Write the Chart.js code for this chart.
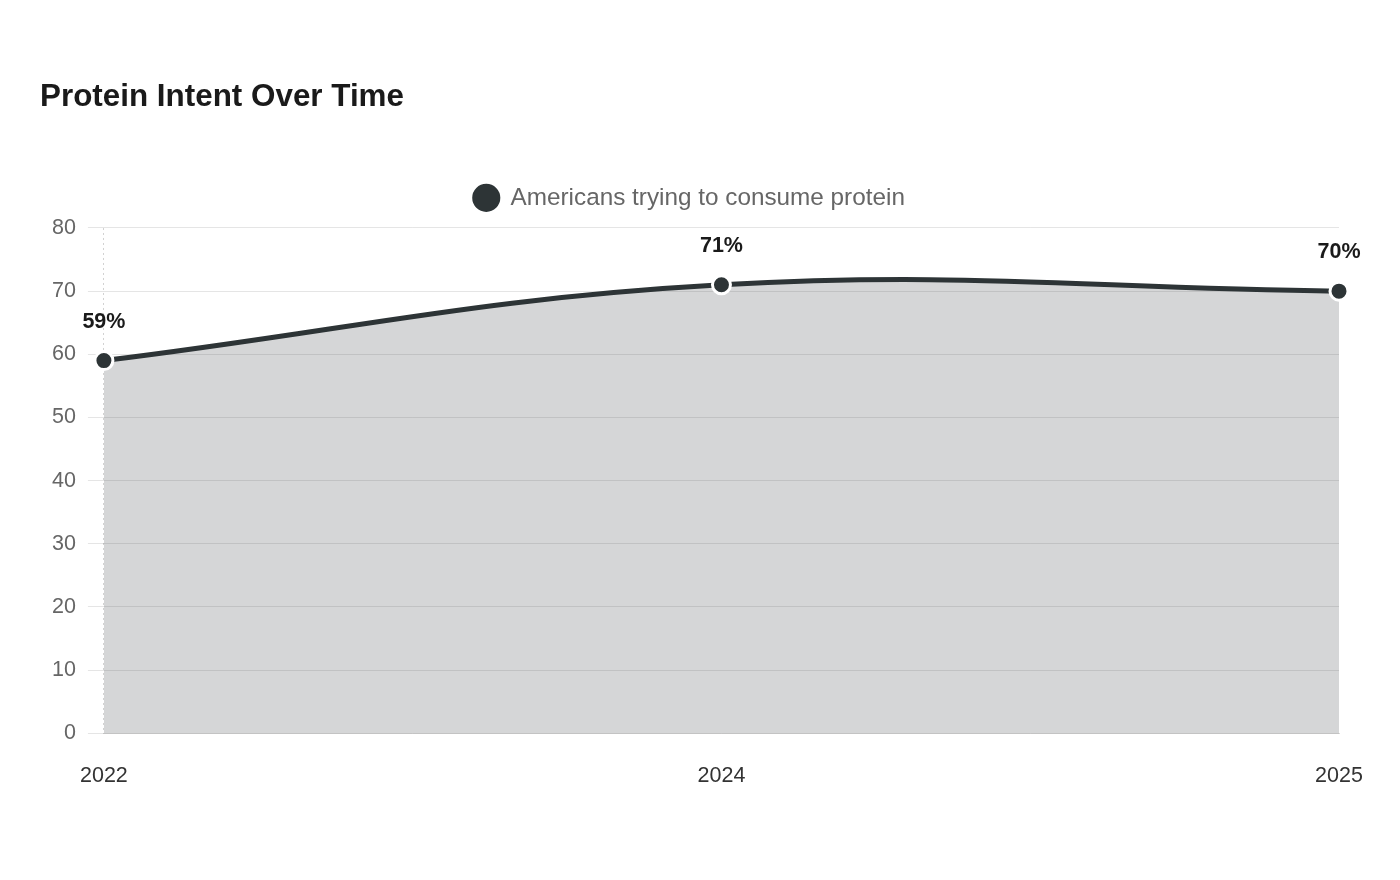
<!DOCTYPE html>
<html>
<head>
<meta charset="utf-8">
<script src="https://cdn.jsdelivr.net/npm/chart.js@4/dist/chart.umd.min.js"></script>
<style>
  html, body { margin: 0; padding: 0; background: #ffffff; }
  #wrap { width: 1400px; height: 880px; position: relative; }
</style>
</head>
<body>
<div id="wrap"><canvas id="c" width="1400" height="880"></canvas></div>
<script>
const categories = ["2022", "2024", "2025"];
const proteinIntent = [59, 71, 70];
const seriesLabel = "Americans trying to consume protein";
const chartTitle = "Protein Intent Over Time";
const yTicks = { min: 0, max: 80, step: 10 };

const FONT = "'Liberation Sans', Arial, Helvetica, sans-serif";
const DARK = "#2d3436";

const valueLabels = {
  id: 'valueLabels',
  afterDatasetsDraw(chart) {
    const ctx = chart.ctx;
    const meta = chart.getDatasetMeta(0);
    ctx.save();
    ctx.font = "bold 21.5px " + FONT;
    ctx.fillStyle = "#1a1a1a";
    ctx.textAlign = "center";
    ctx.textBaseline = "middle";
    meta.data.forEach((pt, i) => {
      ctx.fillText(chart.data.datasets[0].data[i] + "%", pt.x, pt.y - 39);
    });
    ctx.restore();
  }
};

const legendMargin = {
  id: 'legendMargin',
  beforeInit(chart) {
    const orig = chart.legend.fit;
    chart.legend.fit = function () {
      orig.bind(chart.legend)();
      this.height += 8;
    };
  }
};

new Chart(document.getElementById('c'), {
  type: 'line',
  data: {
    labels: categories,
    datasets: [{
      label: seriesLabel,
      data: proteinIntent,
      borderColor: DARK,
      backgroundColor: 'rgba(45,52,54,0.2)',
      borderWidth: 5,
      tension: 0.4,
      fill: 'origin',
      pointRadius: 9,
      pointBackgroundColor: DARK,
      pointBorderColor: '#ffffff',
      pointBorderWidth: 3
    }]
  },
  options: {
    responsive: false,
    animation: false,
    layout: { padding: { top: 79, left: 40, right: 61, bottom: 61 } },
    plugins: {
      title: {
        display: true,
        text: chartTitle,
        align: 'start',
        color: '#1a1a1a',
        font: { family: FONT, size: 31.4, weight: 'bold' },
        padding: { top: 0, bottom: 59 }
      },
      legend: {
        display: true,
        labels: {
          usePointStyle: true,
          pointStyle: 'circle',
          boxWidth: 30,
          boxHeight: 22,
          color: '#666666',
          font: { family: FONT, size: 24.3 },
          padding: 10
        }
      },
      tooltip: { enabled: false }
    },
    scales: {
      x: {
        offset: false,
        grid: {
          display: true,
          drawTicks: false,
          color: (c) => c.index === 0 ? 'rgba(0,0,0,0.18)' : 'rgba(0,0,0,0)',
          lineWidth: 1
        },
        border: { display: true, color: 'rgba(0,0,0,0.15)', dash: [2, 3] },
        ticks: {
          color: '#333333',
          font: { family: FONT, size: 21.5 },
          padding: 30,
          maxRotation: 0
        }
      },
      y: {
        min: yTicks.min,
        max: yTicks.max,
        grid: { color: 'rgba(0,0,0,0.1)', tickLength: 16 },
        border: { display: false },
        ticks: {
          stepSize: yTicks.step,
          color: '#666666',
          font: { family: FONT, size: 21.5 },
          padding: 12
        }
      }
    }
  },
  plugins: [legendMargin, valueLabels]
});
</script>
</body>
</html>
